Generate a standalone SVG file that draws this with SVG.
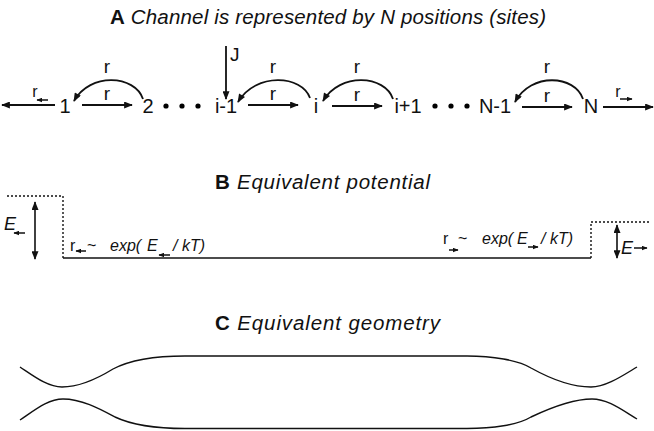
<svg xmlns="http://www.w3.org/2000/svg" width="654" height="431" viewBox="0 0 654 431">
<style>
text{font-family:"Liberation Sans",Arial,sans-serif;fill:#111}
.title{font-size:20.5px}
.b{font-weight:bold}
.it{font-style:italic}
.node{font-size:20px;text-anchor:middle}
.lab{font-size:19px;text-anchor:middle}
.f{font-size:16px}
.ln{stroke:#111;stroke-width:1.8;fill:none}
.thin{stroke:#111;stroke-width:1.5;fill:none}
.dot{stroke:#111;stroke-width:1.4;fill:none;stroke-dasharray:2 2}
.geo{stroke:#111;stroke-width:1.4;fill:none}
</style>
<defs>
<marker id="ah" viewBox="0 0 10 8" refX="9" refY="4" markerWidth="11" markerHeight="7" orient="auto-start-reverse" markerUnits="userSpaceOnUse"><path d="M0,0 L10,4 L0,8 z" fill="#111"/></marker>
<marker id="sm" viewBox="0 0 10 8" refX="9" refY="4" markerWidth="6" markerHeight="5" orient="auto-start-reverse" markerUnits="userSpaceOnUse"><path d="M0,0 L10,4 L0,8 z" fill="#111"/></marker>
</defs>

<g id="titles">
<text class="title" x="110" y="24" textLength="436" lengthAdjust="spacing"><tspan class="b">A</tspan><tspan class="it"> Channel is represented by N positions (sites)</tspan></text>
<text class="title" x="215" y="189" textLength="215" lengthAdjust="spacing"><tspan class="b">B</tspan><tspan class="it"> Equivalent potential</tspan></text>
<text class="title" x="215" y="330" textLength="225" lengthAdjust="spacing"><tspan class="b">C</tspan><tspan class="it"> Equivalent geometry</tspan></text>
</g>

<g id="node-1"><text class="node" x="65" y="113">1</text></g>
<g id="node-2"><text class="node" x="148" y="113">2</text></g>
<g id="dots-1"><circle cx="166" cy="106" r="2.6"/><circle cx="182" cy="106" r="2.6"/><circle cx="198" cy="106" r="2.6"/></g>
<g id="node-i-1"><text class="node" x="226" y="113">i-1</text></g>
<g id="node-i"><text class="node" x="316" y="113">i</text></g>
<g id="node-i+1"><text class="node" x="408" y="113">i+1</text></g>
<g id="dots-2"><circle cx="435" cy="106" r="2.6"/><circle cx="451" cy="106" r="2.6"/><circle cx="467" cy="106" r="2.6"/></g>
<g id="node-N-1"><text class="node" x="495" y="113">N-1</text></g>
<g id="node-N"><text class="node" x="591" y="113">N</text></g>

<g id="connectors">
<line class="ln" x1="55" y1="105" x2="2" y2="105" marker-end="url(#ah)"/>
<line class="ln" x1="82" y1="105" x2="132" y2="105" marker-end="url(#ah)"/>
<path class="ln" d="M143,99 C135,75 90,72 74,101" marker-end="url(#ah)"/>
<line class="ln" x1="226" y1="46" x2="226" y2="99" marker-end="url(#ah)"/>
<line class="ln" x1="248" y1="105" x2="298" y2="105" marker-end="url(#ah)"/>
<path class="ln" d="M310,98 C302,75 256,72 238,102" marker-end="url(#ah)"/>
<line class="ln" x1="332" y1="106" x2="382" y2="106" marker-end="url(#ah)"/>
<path class="ln" d="M393,99 C385,75 340,72 323,101" marker-end="url(#ah)"/>
<line class="ln" x1="522" y1="107" x2="572" y2="107" marker-end="url(#ah)"/>
<path class="ln" d="M583,99 C575,75 531,72 515,102" marker-end="url(#ah)"/>
<line class="ln" x1="603" y1="107" x2="653" y2="107" marker-end="url(#ah)"/>
<line class="thin" x1="48" y1="100" x2="37" y2="100" marker-end="url(#sm)"/>
<line class="thin" x1="620" y1="99" x2="632" y2="99" marker-end="url(#sm)"/>
</g>

<g id="connector-labels">
<text class="lab" x="35" y="97" style="font-size:16px">r</text>
<text class="lab" x="618" y="97" style="font-size:16px">r</text>
<text class="lab" x="107" y="100">r</text>
<text class="lab" x="107" y="73">r</text>
<text class="lab" x="230" y="61" style="text-anchor:start">J</text>
<text class="lab" x="273" y="100">r</text>
<text class="lab" x="273" y="73">r</text>
<text class="lab" x="357" y="101">r</text>
<text class="lab" x="357" y="73">r</text>
<text class="lab" x="547" y="102">r</text>
<text class="lab" x="547" y="73">r</text>
</g>

<g id="potential">
<path class="dot" d="M7,196 H63 V258"/>
<line class="ln" x1="63" y1="258" x2="591" y2="258" style="stroke-width:1.6"/>
<path class="dot" d="M591,258 V222 H650"/>
<line class="thin" x1="35" y1="202" x2="35" y2="259" marker-start="url(#ah)" marker-end="url(#ah)" style="stroke-width:1.6"/>
<line class="thin" x1="617" y1="225" x2="617" y2="258" marker-start="url(#ah)" marker-end="url(#ah)" style="stroke-width:1.6"/>
<text class="it" x="4" y="230" style="font-size:18px">E</text>
<line class="thin" x1="25" y1="233" x2="14" y2="233" marker-end="url(#sm)"/>
<text class="it" x="621" y="254" style="font-size:18px">E</text>
<line class="thin" x1="634" y1="248" x2="647" y2="248" marker-end="url(#sm)"/>
<text class="f" x="70" y="251">r</text>
<line class="thin" x1="86" y1="251" x2="76" y2="251" marker-end="url(#sm)"/>
<text class="f" x="87" y="251">~</text>
<text class="f it" x="110" y="251">exp(</text>
<text class="f it" x="147" y="251">E</text>
<line class="thin" x1="170" y1="255" x2="159" y2="255" marker-end="url(#sm)"/>
<text class="f it" x="173" y="251">/ kT)</text>
<text class="f" x="443" y="244">r</text>
<line class="thin" x1="449" y1="250" x2="458" y2="250" marker-end="url(#sm)"/>
<text class="f" x="458" y="244">~</text>
<text class="f it" x="482" y="244">exp(</text>
<text class="f it" x="517" y="244">E</text>
<line class="thin" x1="528" y1="247" x2="538" y2="247" marker-end="url(#sm)"/>
<text class="f it" x="541" y="244">/ kT)</text>
</g>

<g id="geometry">
<path class="geo" d="M20,367 C35,377 48,387 62,387 C80,387 100,377 113,369 C132,359 160,356 185,356 L467,356 C492,356 518,360 531,368 C549,378 570,387 591,387 C606,387 622,376 637,367"/>
<path class="geo" d="M20,420 C35,410 48,399 63,399 C82,399 100,409 115,417 C134,426 160,428.5 185,428.5 L467,428.5 C492,428.5 518,425 531,417 C550,408 572,399 592,399 C608,399 622,410 637,419"/>
</g>
</svg>
